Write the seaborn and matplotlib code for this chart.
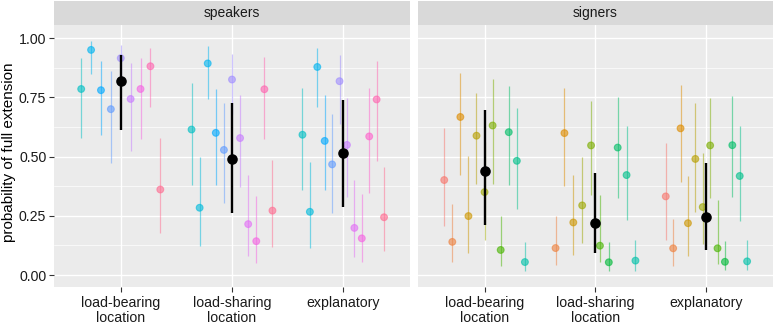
import matplotlib
matplotlib.use('Agg')
import matplotlib.pyplot as plt
import seaborn as sns
import numpy as np
import pandas as pd

# --- data --- #
categories = ['load-bearing\nlocation', 'load-sharing\nlocation', 'explanatory']
panels = ['speakers', 'signers']

# participant hue index (1..24 on the ggplot hue wheel, 15 deg steps)
spk_id = [13, 15, 16, 17, 18, 19, 21, 23, 24,
          13, 14, 15, 16, 17, 18, 19, 20, 21, 23, 24,
          13, 14, 15, 16, 17, 18, 19, 20, 21, 22, 23, 24]
spk_cond = [0] * 9 + [1] * 11 + [2] * 12
spk_p = [0.785, 0.95, 0.78, 0.70, 0.915, 0.743, 0.785, 0.881, 0.361,
         0.614, 0.284, 0.893, 0.60, 0.528, 0.825, 0.578, 0.215, 0.143, 0.784, 0.272,
         0.592, 0.267, 0.878, 0.566, 0.467, 0.818, 0.549, 0.199, 0.155, 0.585, 0.741, 0.244]
spk_lo = [0.579, 0.847, 0.589, 0.472, 0.80, 0.522, 0.576, 0.71, 0.177,
          0.38, 0.124, 0.742, 0.38, 0.306, 0.68, 0.37, 0.082, 0.05, 0.575, 0.117,
          0.36, 0.116, 0.71, 0.357, 0.26, 0.636, 0.328, 0.075, 0.054, 0.346, 0.483, 0.103]
spk_hi = [0.914, 0.986, 0.904, 0.862, 0.97, 0.893, 0.915, 0.96, 0.579,
          0.809, 0.50, 0.967, 0.784, 0.725, 0.932, 0.761, 0.421, 0.332, 0.922, 0.484,
          0.791, 0.477, 0.96, 0.758, 0.678, 0.928, 0.746, 0.40, 0.342, 0.791, 0.904, 0.455]

sgn_id = [1, 2, 3, 4, 5, 6, 7, 8, 10, 11, 12,
          2, 3, 4, 6, 7, 8, 9, 10, 11, 12,
          1, 2, 3, 4, 5, 6, 7, 8, 9, 10, 11, 12]
sgn_cond = [0] * 11 + [1] * 10 + [2] * 12
sgn_p = [0.401, 0.14, 0.667, 0.249, 0.588, 0.35, 0.631, 0.106, 0.603, 0.482, 0.055,
         0.114, 0.599, 0.222, 0.294, 0.547, 0.124, 0.054, 0.538, 0.422, 0.061,
         0.332, 0.113, 0.619, 0.219, 0.49, 0.287, 0.547, 0.113, 0.056, 0.548, 0.418, 0.058]
sgn_lo = [0.205, 0.054, 0.424, 0.095, 0.386, 0.148, 0.386, 0.038, 0.378, 0.28, 0.018,
          0.042, 0.374, 0.085, 0.137, 0.336, 0.054, 0.018, 0.325, 0.233, 0.018,
          0.148, 0.04, 0.393, 0.082, 0.268, 0.13, 0.325, 0.047, 0.021, 0.328, 0.23, 0.021]
sgn_hi = [0.62, 0.30, 0.853, 0.504, 0.77, 0.56, 0.826, 0.25, 0.798, 0.706, 0.141,
          0.25, 0.791, 0.421, 0.50, 0.734, 0.339, 0.138, 0.751, 0.631, 0.148,
          0.558, 0.236, 0.80, 0.419, 0.725, 0.513, 0.749, 0.318, 0.144, 0.756, 0.631, 0.148]

# group estimates (black point ranges)
spk_mean = [0.819, 0.49, 0.513]
spk_mean_lo = [0.611, 0.261, 0.287]
spk_mean_hi = [0.928, 0.725, 0.737]
sgn_mean = [0.438, 0.219, 0.246]
sgn_mean_lo = [0.212, 0.092, 0.106]
sgn_mean_hi = [0.695, 0.431, 0.473]


def hue_pal(n, l=65, c=100):
    # ggplot2 default hue palette (polar Luv -> sRGB)
    h = np.deg2rad(np.linspace(15, 375, n + 1)[:n])
    u, v = c * np.cos(h), c * np.sin(h)
    Y = ((l + 16) / 116) ** 3
    un, vn = 0.19784, 0.46834
    up = u / (13 * l) + un
    vp = v / (13 * l) + vn
    X = Y * 9 * up / (4 * vp)
    Z = Y * (12 - 3 * up - 20 * vp) / (4 * vp)
    M = np.array([[3.2404542, -1.5371385, -0.4985314],
                  [-0.9692660, 1.8760108, 0.0415560],
                  [0.0556434, -0.2040259, 1.0572252]])
    rgb = M @ np.vstack([X, np.full_like(X, Y), Z])
    rgb = np.clip(rgb, 0, 1)
    rgb = np.where(rgb <= 0.0031308, 12.92 * rgb, 1.055 * rgb ** (1 / 2.4) - 0.055)
    return [tuple(np.clip(col, 0, 1)) for col in rgb.T]


colors = hue_pal(24)
palette = {i + 1: colors[i] for i in range(24)}


def build(ids, cond, p, lo, hi):
    df = pd.DataFrame({'id': ids, 'cond': cond, 'p': p, 'lo': lo, 'hi': hi})
    df['n'] = df.groupby('cond')['id'].transform('size')
    df['rank'] = df.groupby('cond')['id'].rank() - 1
    df['x'] = df['cond'] + (df['rank'] - (df['n'] - 1) / 2) * 0.8 / df['n']
    return df


dfs = {
    'speakers': build(spk_id, spk_cond, spk_p, spk_lo, spk_hi),
    'signers': build(sgn_id, sgn_cond, sgn_p, sgn_lo, sgn_hi),
}
means = {
    'speakers': (spk_mean, spk_mean_lo, spk_mean_hi),
    'signers': (sgn_mean, sgn_mean_lo, sgn_mean_hi),
}

sns.set_style('darkgrid', {'axes.facecolor': '#EBEBEB', 'grid.color': 'white'})
plt.rcParams['font.family'] = ['Liberation Sans', 'DejaVu Sans']

W, H = 775, 326
fig = plt.figure(figsize=(W / 100, H / 100), dpi=100)

panel_px = [(54, 410), (418, 773)]
top_px, bot_px, strip_top = 25, 286.7, 1

for k, name in enumerate(panels):
    x0, x1 = panel_px[k]
    ax = fig.add_axes([x0 / W, 1 - bot_px / H, (x1 - x0) / W, (bot_px - top_px) / H])
    sax = fig.add_axes([x0 / W, 1 - top_px / H, (x1 - x0) / W, (top_px - strip_top) / H])

    df = dfs[name]
    ax.vlines(df['x'], df['lo'], df['hi'], colors=[palette[i] for i in df['id']],
              alpha=0.5, lw=0.9, zorder=2)
    sns.scatterplot(data=df, x='x', y='p', hue='id', palette=palette, s=24,
                    alpha=0.6, edgecolor='face', linewidth=0.8, legend=False,
                    ax=ax, zorder=3)

    m, mlo, mhi = means[name]
    cx = np.arange(len(categories))
    ax.vlines(cx, mlo, mhi, colors='black', lw=1.7, zorder=4)
    ax.scatter(cx, m, s=58, color='black', zorder=5, linewidths=0)

    ax.set_xlim(-0.6, 2.6)
    ax.set_ylim(-0.049, 1.055)
    ax.set_xticks(cx)
    ax.set_xticklabels(categories, fontsize=10.2, color='#1A1A1A', linespacing=1.15)
    ax.set_yticks([0, 0.25, 0.5, 0.75, 1.0])
    ax.set_yticks([0.125, 0.375, 0.625, 0.875], minor=True)
    ax.grid(True, which='major', color='white', lw=1.0)
    ax.grid(True, which='minor', axis='y', color='white', lw=0.5)
    ax.set_axisbelow(True)
    ax.tick_params(axis='both', which='major', length=3.5, width=0.8, color='#333333',
                   pad=2, bottom=True, left=(k == 0))
    ax.tick_params(axis='x', which='major', pad=3)
    ax.tick_params(axis='both', which='minor', length=0)
    if k == 0:
        ax.set_yticklabels(['0.00', '0.25', '0.50', '0.75', '1.00'], fontsize=10.2,
                           color='#1A1A1A')
    else:
        ax.set_yticklabels([])
    ax.set_ylabel('')
    ax.set_xlabel('')
    for s in ax.spines.values():
        s.set_visible(False)

    sax.set_facecolor('#D9D9D9')
    sax.set_xticks([])
    sax.set_yticks([])
    sax.grid(False)
    for s in sax.spines.values():
        s.set_visible(False)
    sax.text(0.5, 0.5, name, ha='center', va='center', fontsize=10,
             color='#1A1A1A', transform=sax.transAxes)

fig.text(9 / W, 1 - 152 / H, 'probability of full extension', rotation=90,
         ha='center', va='center', fontsize=11, color='black')

fig.savefig('out.png', dpi=100)
